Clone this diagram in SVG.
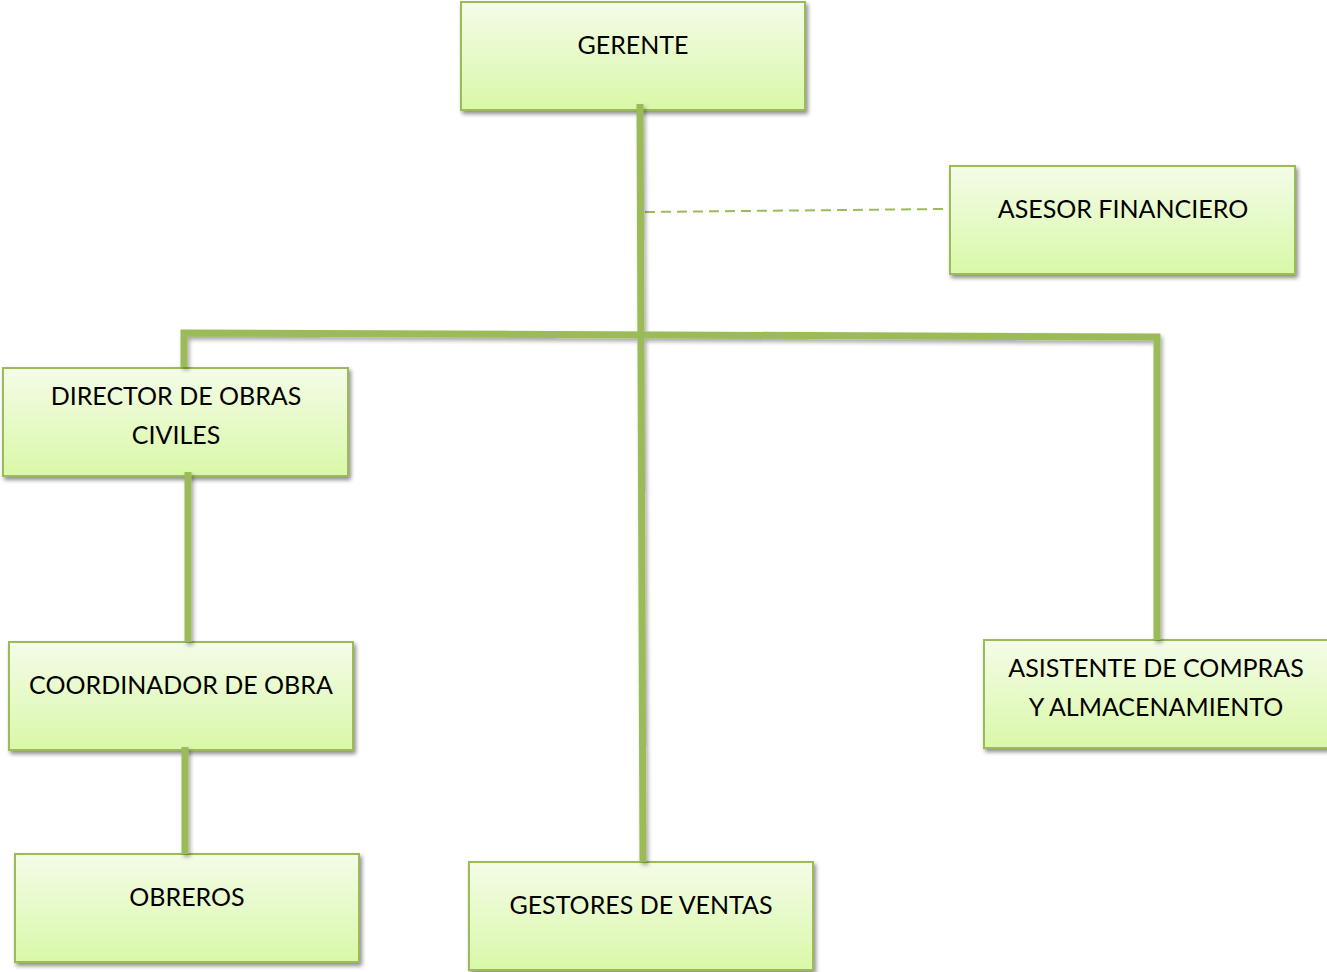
<svg xmlns="http://www.w3.org/2000/svg" width="1327" height="972" viewBox="0 0 1327 972">
<defs>
<linearGradient id="g" x1="0" y1="0" x2="0" y2="1">
<stop offset="0" stop-color="#F4FCE8"/>
<stop offset="1" stop-color="#D9F8A8"/>
</linearGradient>
<filter id="sh" x="-10%" y="-10%" width="125%" height="135%">
<feGaussianBlur in="SourceAlpha" stdDeviation="2"/>
<feOffset dx="2" dy="3" result="b"/>
<feComponentTransfer><feFuncA type="linear" slope="0.45"/></feComponentTransfer>
<feMerge><feMergeNode/><feMergeNode in="SourceGraphic"/></feMerge>
</filter>
<filter id="shl" filterUnits="userSpaceOnUse" x="0" y="0" width="1327" height="972">
<feGaussianBlur in="SourceAlpha" stdDeviation="2"/>
<feOffset dx="2" dy="3" result="b"/>
<feComponentTransfer><feFuncA type="linear" slope="0.35"/></feComponentTransfer>
<feMerge><feMergeNode/><feMergeNode in="SourceGraphic"/></feMerge>
</filter>
</defs>
<style>
.box{fill:url(#g);stroke:#9BBB59;stroke-width:2;filter:url(#sh)}
.t{font-family:Lato,"Open Sans","Liberation Sans",sans-serif;font-size:25px;fill:#000;text-anchor:middle}
.c{stroke:#9BBB59;stroke-width:7;fill:none}
.d{stroke:#9BBB59;stroke-width:2;fill:none;stroke-dasharray:10,6}
</style>
<rect width="1327" height="972" fill="#fff"/>
<g id="gerente"><rect class="box" x="461" y="2" width="344" height="108"/><text class="t" x="633" y="54">GERENTE</text></g>
<g id="asesor"><rect class="box" x="950" y="166" width="345" height="108"/><text class="t" x="1123" y="218">ASESOR FINANCIERO</text></g>
<g id="director"><rect class="box" x="3" y="368" width="345" height="108"/><text class="t" x="176" y="405">DIRECTOR DE OBRAS</text><text class="t" x="176" y="444">CIVILES</text></g>
<g id="coordinador"><rect class="box" x="9" y="642" width="344" height="108"/><text class="t" x="181" y="694">COORDINADOR DE OBRA</text></g>
<g id="obreros"><rect class="box" x="15" y="854" width="344" height="108"/><text class="t" x="187" y="906">OBREROS</text></g>
<g id="gestores"><rect class="box" x="469" y="862" width="344" height="108"/><text class="t" x="641" y="914">GESTORES DE VENTAS</text></g>
<g id="asistente"><rect class="box" x="984" y="640" width="350" height="108"/><text class="t" x="1156" y="677">ASISTENTE DE COMPRAS</text><text class="t" x="1156" y="716">Y ALMACENAMIENTO</text></g>
<g id="connectors">
<line class="d" x1="645" y1="212" x2="943" y2="209"/>
<g filter="url(#shl)">
<polyline class="c" points="184,367 184,333 1157,337 1157,640"/>
<line class="c" x1="640" y1="104" x2="643" y2="862"/>
<line class="c" x1="188" y1="472" x2="188" y2="642"/>
<line class="c" x1="185" y1="747" x2="185" y2="854"/>
</g>
</g>
</svg>
